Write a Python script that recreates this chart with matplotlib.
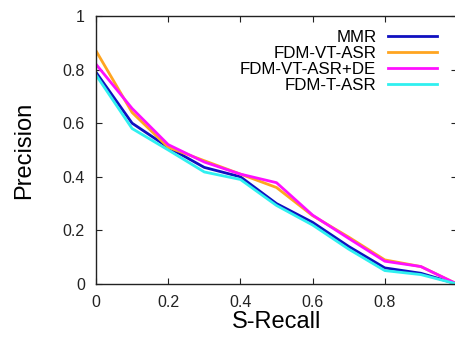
import matplotlib
matplotlib.use("Agg")
import matplotlib.pyplot as plt

plt.rcParams['font.family'] = ['Liberation Sans', 'DejaVu Sans']

recall = [0.0, 0.1, 0.2, 0.3, 0.4, 0.5, 0.6, 0.7, 0.8, 0.9, 1.0]
mmr = [0.79, 0.60, 0.51, 0.435, 0.40, 0.30, 0.23, 0.14, 0.06, 0.04, 0.0]
vt_asr = [0.87, 0.64, 0.51, 0.46, 0.41, 0.36, 0.255, 0.175, 0.09, 0.065, 0.0]
vt_asr_de = [0.82, 0.655, 0.52, 0.455, 0.41, 0.378, 0.257, 0.17, 0.085, 0.065, 0.0]
t_asr = [0.78, 0.58, 0.50, 0.418, 0.39, 0.293, 0.22, 0.13, 0.05, 0.035, 0.0]

labels = ['MMR', 'FDM-VT-ASR', 'FDM-VT-ASR+DE', 'FDM-T-ASR']
colors = ['#1010c0', '#ffa520', '#ff10ff', '#30f0f0']
x_ticks = [0, 0.2, 0.4, 0.6, 0.8]
x_tick_labels = ['0', '0.2', '0.4', '0.6', '0.8']
y_ticks = [0, 0.2, 0.4, 0.6, 0.8, 1.0]
y_tick_labels = ['0', '0.2', '0.4', '0.6', '0.8', '1']

fig = plt.figure(figsize=(4.56, 3.37), dpi=100)
ax = fig.add_axes([0.2105, 0.1573, 0.7917, 0.7953])

series = [mmr, vt_asr, vt_asr_de, t_asr]
for s, lab, c in zip(series, labels, colors):
    ax.plot(recall, s, color=c, lw=2, label=lab)

ax.set_xlim(0, 1)
ax.set_ylim(0, 1)
ax.set_xticks(x_ticks)
ax.set_xticklabels(x_tick_labels)
ax.set_yticks(y_ticks)
ax.set_yticklabels(y_tick_labels)
ax.tick_params(direction='in', length=4, top=True, right=True, labelsize=11.5, colors='#222222', pad=8)
for side in ax.spines:
    ax.spines[side].set_linewidth(1.0)
    ax.spines[side].set_color('#222222')

ax.set_xlabel('S-Recall', fontsize=17, labelpad=1)
ax.set_ylabel('Precision', fontsize=17, labelpad=20)

leg = ax.legend(loc='upper right', bbox_to_anchor=(0.9775, 0.935), bbox_transform=fig.transFigure,
                frameon=False, markerfirst=False, fontsize=12.2, handlelength=2.9,
                labelspacing=0.05, handletextpad=0.7, borderpad=0)

fig.savefig('out.png', dpi=100)
